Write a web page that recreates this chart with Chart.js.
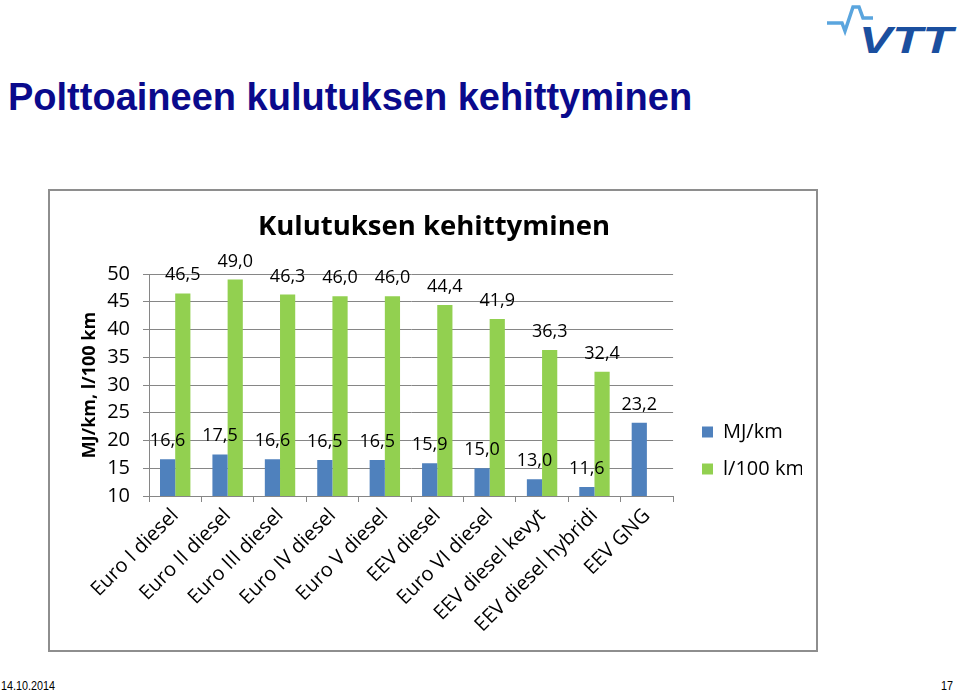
<!DOCTYPE html>
<html>
<head>
<meta charset="utf-8">
<script src="https://cdn.jsdelivr.net/npm/chart.js@4.4.0/dist/chart.umd.min.js"></script>
<style>
html,body{margin:0;padding:0;background:#fff;}
body{width:959px;height:691px;overflow:hidden;position:relative;font-family:"Liberation Sans",Arial,sans-serif;}
#slideTitle{position:absolute;left:8px;top:75px;font-weight:bold;font-size:38px;line-height:44px;color:#0a0a8c;white-space:nowrap;}
#box{position:absolute;left:48px;top:189px;width:770px;height:463px;box-sizing:border-box;border:2px solid #8e8e8e;}
#wrap{position:absolute;left:49px;top:190px;}
#date{position:absolute;left:1px;top:678px;font-size:13px;line-height:15px;transform-origin:0 0;transform:scaleX(0.83);color:#000;}
#pageNo{position:absolute;left:941px;top:678px;font-size:13px;line-height:15px;transform-origin:0 0;transform:scaleX(0.83);color:#000;}
#logo{position:absolute;left:820px;top:0;}
</style>
</head>
<body>
<div id="slideTitle">Polttoaineen kulutuksen kehittyminen</div>
<svg id="logo" width="139" height="60" viewBox="0 0 139 60">
  <polyline points="7,23 22,23 25,31 33,7 39,7 43,18 53,18" fill="none" stroke="#5aa5de" stroke-width="3.5" stroke-linejoin="miter"/>
  <text x="39" y="53" font-family="Liberation Sans, Arial, sans-serif" font-weight="bold" font-style="italic" font-size="37" fill="#1b4f9f" textLength="94" lengthAdjust="spacingAndGlyphs">VTT</text>
</svg>
<div id="box"></div>
<div id="wrap"><canvas id="c" width="753" height="461" style="width:753px;height:461px;"></canvas></div>
<div id="date">14.10.2014</div>
<div id="pageNo">17</div>
<script>
const categories = ['Euro I diesel','Euro II diesel','Euro III diesel','Euro IV diesel','Euro V diesel','EEV diesel','Euro VI diesel','EEV diesel kevyt','EEV diesel hybridi','EEV GNG'];
const mjPerKm = [16.6,17.5,16.6,16.5,16.5,15.9,15.0,13.0,11.6,23.2];
const litresPer100km = [46.5,49.0,46.3,46.0,46.0,44.4,41.9,36.3,32.4,null];
const seriesNames = ['MJ/km','l/100 km'];
const yTicks = [10,15,20,25,30,35,40,45,50];
const chartTitle = 'Kulutuksen kehittyminen';
const yAxisTitle = 'MJ/km, l/100 km';

const FONT = "'Open Sans', sans-serif";
const GRID = '#868686';

const valueLabels = {
  id: 'valueLabels',
  afterDatasetsDraw(chart) {
    const ctx = chart.ctx;
    ctx.save();
    ctx.font = "18px " + FONT;
    ctx.fillStyle = '#000';
    ctx.textAlign = 'center';
    ctx.textBaseline = 'alphabetic';
    chart.data.datasets.forEach((ds, i) => {
      const meta = chart.getDatasetMeta(i);
      meta.data.forEach((bar, j) => {
        const v = ds.data[j];
        if (v === null || v === undefined) return;
        ctx.fillText(v.toFixed(1).replace('.', ','), bar.x, bar.y - 13);
      });
    });
    ctx.restore();
  }
};

const placeBlocks = {
  id: 'placeBlocks',
  afterLayout(chart) {
    const l = chart.legend;
    if (l) {
      const dx = 653 - 17 - l.left;
      l.left += dx; l.right += dx;
      l.top += 30; l.bottom += 30;
    }
    const t = chart.titleBlock;
    if (t) {
      const dx = 385 - (t.left + t.right) / 2;
      t.left += dx; t.right += dx;
    }
  }
};

new Chart(document.getElementById('c'), {
  type: 'bar',
  data: {
    labels: categories,
    datasets: [
      { label: seriesNames[0], data: mjPerKm, backgroundColor: '#4f81bd', borderWidth: 0, categoryPercentage: 0.58, barPercentage: 1.0 },
      { label: seriesNames[1], data: litresPer100km, backgroundColor: '#92d050', borderWidth: 0, categoryPercentage: 0.58, barPercentage: 1.0 }
    ]
  },
  plugins: [valueLabels, placeBlocks],
  options: {
    responsive: false,
    animation: false,
    devicePixelRatio: 1,
    layout: { padding: 0 },
    plugins: {
      title: { display: true, text: chartTitle, color: '#000', font: { family: FONT, size: 27.5, weight: 'bold' }, padding: { top: 21, bottom: 30 } },
      legend: { position: 'right', labels: { boxWidth: 11, boxHeight: 11, padding: 17, color: '#000', font: { family: FONT, size: 20 } } },
      tooltip: { enabled: false }
    },
    scales: {
      x: {
        grid: { display: true, drawOnChartArea: false, drawTicks: true, tickLength: 6, color: GRID, offset: true },
        border: { display: true, color: GRID },
        ticks: { font: { family: FONT, size: 20 }, color: '#000', maxRotation: 45, minRotation: 45, autoSkip: false, padding: 2 },
        afterFit(s) { s.height = 155; }
      },
      y: {
        min: 10, max: 50,
        afterBuildTicks(s) { s.ticks = yTicks.map(v => ({ value: v })); },
        ticks: { font: { family: FONT, size: 20 }, color: '#000', padding: 13 },
        grid: { color: GRID, tickLength: 6 },
        border: { display: true, color: GRID },
        title: { display: true, text: yAxisTitle, color: '#000', font: { family: FONT, size: 18, weight: 'bold' }, padding: { top: 30, bottom: 0 } },
        afterFit(s) { s.width = 100; }
      }
    }
  }
});
</script>
</body>
</html>
